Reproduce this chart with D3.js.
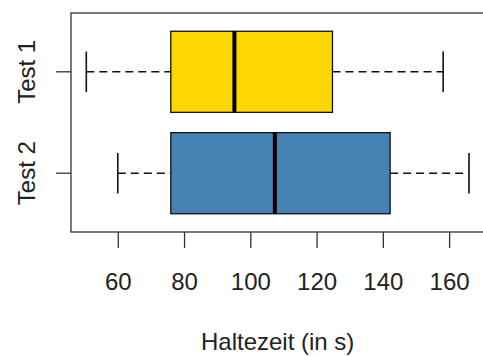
<!DOCTYPE html>
<html>
<head>
<meta charset="utf-8">
<script src="https://cdn.jsdelivr.net/npm/d3@7"></script>
<style>
  html, body { margin: 0; padding: 0; background: #fff; }
  svg { display: block; font-family: "Liberation Sans", Arial, sans-serif; }
</style>
</head>
<body>
<svg id="chart" width="483" height="356"></svg>
<script>
// Hold times per test run (five-number summaries)
const groups   = ["Test 1", "Test 2"];
const lowWhisk = [50.5, 60];
const q1       = [76, 76];
const medians  = [95.2, 107.4];
const q3       = [124.8, 142.2];
const highWhisk= [158.2, 166];
const colors   = ["#FFD700", "#4682B4"];
const xTicks   = [60, 80, 100, 120, 140, 160];
const xTitle   = "Haltezeit (in s)";

const svg = d3.select("#chart");
const frame = { left: 71, right: 484.3, top: 13, bottom: 232 };

// x range padded by 4% on either side of the data
const lo = d3.min(lowWhisk), hi = d3.max(highWhisk);
const pad = (hi - lo) * 0.04;
const x = d3.scaleLinear().domain([lo - pad, hi + pad]).range([frame.left, frame.right]);

// group positions: first group on top, last at bottom
const n = groups.length;
const ext = n * 0.04;
const y = d3.scaleLinear().domain([0.5 - ext, n + 0.5 + ext]).range([frame.bottom, frame.top]);
const pos = i => y(n - i);
const halfBox = (y(0) - y(0.4));
const halfCap = (y(0) - y(0.2));

const data = groups.map((g, i) => ({
  g, i, lo: lowWhisk[i], q1: q1[i], med: medians[i], q3: q3[i], hi: highWhisk[i], c: colors[i]
}));

const plot = svg.append("g");

// whiskers
plot.selectAll(".wl").data(data).join("line")
  .attr("x1", d => x(d.lo)).attr("x2", d => x(d.q1))
  .attr("y1", d => pos(d.i)).attr("y2", d => pos(d.i))
  .attr("stroke", "#111").attr("stroke-width", 1.5).attr("stroke-dasharray", "8,5");
plot.selectAll(".wh").data(data).join("line")
  .attr("x1", d => x(d.q3)).attr("x2", d => x(d.hi))
  .attr("y1", d => pos(d.i)).attr("y2", d => pos(d.i))
  .attr("stroke", "#111").attr("stroke-width", 1.5).attr("stroke-dasharray", "8,5");

// staples
["lo", "hi"].forEach(k => {
  plot.selectAll(".cap-" + k).data(data).join("line")
    .attr("x1", d => x(d[k])).attr("x2", d => x(d[k]))
    .attr("y1", d => pos(d.i) - halfCap).attr("y2", d => pos(d.i) + halfCap)
    .attr("stroke", "#111").attr("stroke-width", 1.6);
});

// boxes
plot.selectAll(".box").data(data).join("rect")
  .attr("x", d => x(d.q1)).attr("width", d => x(d.q3) - x(d.q1))
  .attr("y", d => pos(d.i) - halfBox).attr("height", halfBox * 2)
  .attr("fill", d => d.c).attr("stroke", "#111").attr("stroke-width", 1.3);

// medians
plot.selectAll(".med").data(data).join("line")
  .attr("x1", d => x(d.med)).attr("x2", d => x(d.med))
  .attr("y1", d => pos(d.i) - halfBox).attr("y2", d => pos(d.i) + halfBox)
  .attr("stroke", "#000").attr("stroke-width", 4);

// plot frame
svg.append("rect")
  .attr("x", frame.left).attr("y", frame.top)
  .attr("width", frame.right - frame.left).attr("height", frame.bottom - frame.top)
  .attr("fill", "none").attr("stroke", "#333").attr("stroke-width", 1.3);

// bottom axis
const xAxis = svg.append("g")
  .attr("transform", `translate(0,${frame.bottom})`)
  .call(d3.axisBottom(x).tickValues(xTicks).tickSize(16).tickSizeOuter(0));
xAxis.select(".domain").remove();
xAxis.selectAll(".tick line").attr("stroke", "#333").attr("stroke-width", 1.3);
xAxis.selectAll(".tick text")
  .attr("y", 58).attr("dy", null)
  .attr("fill", "#222").style("font-size", "24px")
  .style("font-family", "'Liberation Sans', Arial, sans-serif");

// left axis with rotated group names
const yAxis = svg.append("g").attr("transform", `translate(${frame.left},0)`);
yAxis.selectAll("line").data(data).join("line")
  .attr("x1", -15).attr("x2", 0)
  .attr("y1", d => pos(d.i)).attr("y2", d => pos(d.i))
  .attr("stroke", "#333").attr("stroke-width", 1.3);
yAxis.selectAll("text").data(data).join("text")
  .attr("transform", d => `translate(-36,${pos(d.i)}) rotate(-90)`)
  .attr("text-anchor", "middle")
  .attr("fill", "#222").style("font-size", "24px")
  .text(d => d.g);

// axis title, centred on the plot region
svg.append("text")
  .attr("x", (frame.left + frame.right) / 2)
  .attr("y", 350)
  .attr("text-anchor", "middle")
  .attr("fill", "#222").style("font-size", "24px")
  .text(xTitle);
</script>
</body>
</html>
